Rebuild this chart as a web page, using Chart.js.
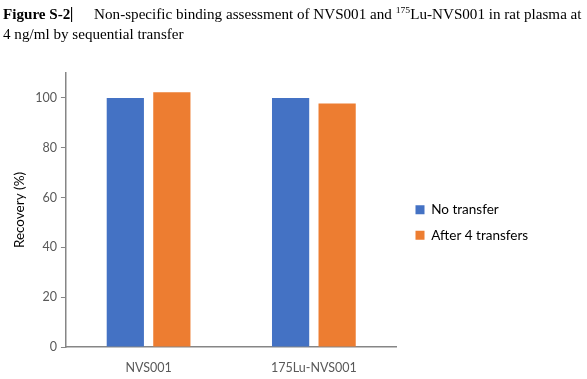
<!DOCTYPE html>
<html>
<head>
<meta charset="utf-8">
<script src="https://cdn.jsdelivr.net/npm/chart.js@4.4.1/dist/chart.umd.min.js"></script>
<style>
  html, body { margin: 0; padding: 0; background: #fff; }
  #wrap { position: relative; width: 587px; height: 379px; overflow: hidden; }
  #title {
    position: absolute; left: 3px; top: 5px; width: 538px;
    font-family: "Liberation Serif", "Times New Roman", serif;
    font-size: 14px; line-height: 20px; color: #000;
    transform: scaleX(1.08); transform-origin: left top;
  }
  #title b { border-right: 1px solid #000; padding-right: 1px; margin-right: 20px; }
  #title sup { font-size: 9px; line-height: 0; }
  #chart { position: absolute; left: 0; top: 0; }
</style>
</head>
<body>
<div id="wrap">
  <canvas id="chart" width="587" height="380"></canvas>
  <div id="title"><b>Figure S-2</b>Non-specific binding assessment of NVS001 and <sup>175</sup>Lu-NVS001 in rat plasma at 4 ng/ml by sequential transfer</div>
</div>
<script>
const categories = ['NVS001', '175Lu-NVS001'];
const noTransfer = [100, 100];
const afterFourTransfers = [102.3, 97.8];
const yTicks = [0, 20, 40, 60, 80, 100];

const COLORS = { blue: '#4472C4', orange: '#ED7D31', text: '#595959', axis: '#868686' };
const FONT = { family: 'Lato, "Open Sans", sans-serif', size: 12.5 };

function barDataset(label, color, data) {
  return {
    label,
    data,
    backgroundColor: color,
    borderWidth: 0,
    categoryPercentage: 0.563,
    barPercentage: 0.8
  };
}

// nudge the legend a bit away from the plot, like the Excel original
const legendNudge = {
  id: 'legendNudge',
  afterLayout(chart) {
    const lg = chart.legend;
    lg.left += 7;
    lg.right += 7;
    lg.top -= 4;
    lg.bottom -= 4;
  }
};

new Chart(document.getElementById('chart').getContext('2d'), {
  type: 'bar',
  data: {
    labels: categories,
    datasets: [
      barDataset('No transfer', COLORS.blue, noTransfer),
      barDataset('After 4 transfers', COLORS.orange, afterFourTransfers)
    ]
  },
  plugins: [legendNudge],
  options: {
    responsive: false,
    animation: false,
    layout: { padding: { left: 8, top: 73, right: 61, bottom: 0 } },
    plugins: {
      legend: {
        position: 'right',
        labels: { color: '#000', font: { ...FONT, size: 13.5 }, boxWidth: 9, boxHeight: 9, padding: 12 }
      },
      tooltip: { enabled: false }
    },
    scales: {
      x: {
        grid: { display: false },
        border: { color: COLORS.axis, width: 1.5 },
        ticks: { color: COLORS.text, font: FONT, padding: 5 }
      },
      y: {
        min: 0,
        max: 110,
        afterBuildTicks: (axis) => { axis.ticks = yTicks.concat([110]).map(v => ({ value: v })); },
        grid: {
          drawOnChartArea: false,
          tickLength: 5,
          color: (ctx) => (ctx.tick && ctx.tick.value > 100 ? 'rgba(0,0,0,0)' : COLORS.axis)
        },
        border: { color: COLORS.axis, width: 1.5 },
        ticks: {
          color: COLORS.text,
          font: FONT,
          padding: 4,
          callback: (v) => (yTicks.includes(v) ? v : '')
        },
        title: { display: true, text: 'Recovery (%)', color: '#000', font: { ...FONT, size: 13.5 }, padding: { top: 4, bottom: 3 } }
      }
    }
  }
});
</script>
</body>
</html>
